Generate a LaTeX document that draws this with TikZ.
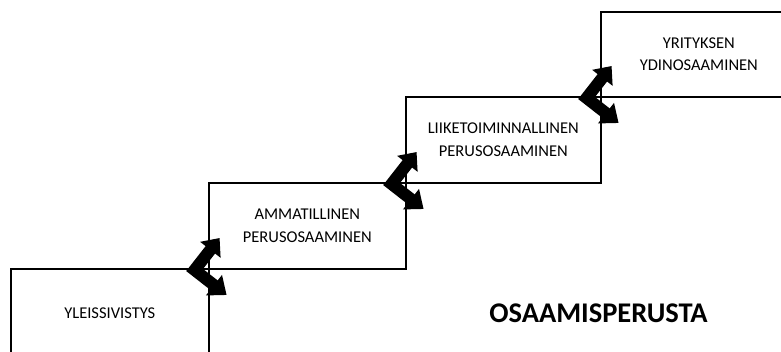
\documentclass[tikz,border=0pt]{standalone}
\usepackage{fontspec}
\setmainfont{Carlito}
\usetikzlibrary{arrows.meta,calc}

\tikzset{
  stepbox/.style={draw=black, line width=1.6pt, rectangle, inner sep=0pt,
    anchor=north west, align=center, text=black,
    font=\fontsize{16.5}{22.5}\selectfont},
  bigarrow/.style={draw=black, line width=12pt, line join=miter,
    {Triangle[width=25pt,length=15pt]}-{Triangle[width=25pt,length=16pt]}},
  title/.style={font=\bfseries\fontsize{28.5}{32}\selectfont, text=black}
}

\begin{document}
\begin{tikzpicture}[x=1pt,y=-1pt]
  \useasboundingbox (0,0) rectangle (781,351);
  \clip (0,0) rectangle (781,351);

  % the four steps of the staircase
  \node[stepbox, minimum width=198pt, minimum height=88pt] (s1) at (10,268) {YLEISSIVISTYS};
  \node[stepbox, minimum width=197pt, minimum height=86pt] (s2) at (208,182) {AMMATILLINEN\\PERUSOSAAMINEN};
  \node[stepbox, minimum width=195pt, minimum height=86pt] (s3) at (405,96) {LIIKETOIMINNALLINEN\\PERUSOSAAMINEN};
  \node[stepbox, minimum width=196pt, minimum height=85pt] (s4) at (600,11) {YRITYKSEN\\YDINOSAAMINEN};

  \node[title] (base) at (598.5,313) {OSAAMISPERUSTA};

  % bent two-way arrows at each step corner
  \foreach \s/\n in {s1/1, s2/2, s3/3} {
    \coordinate (t\n) at ($(\s.north east)+(10,-30)$);
    \coordinate (v\n) at ($(\s.north east)+(-15,2)$);
    \coordinate (b\n) at ($(\s.north east)+(17,27)$);
    \draw[bigarrow] (t\n) -- (v\n) -- (b\n);
  }
\end{tikzpicture}
\end{document}
